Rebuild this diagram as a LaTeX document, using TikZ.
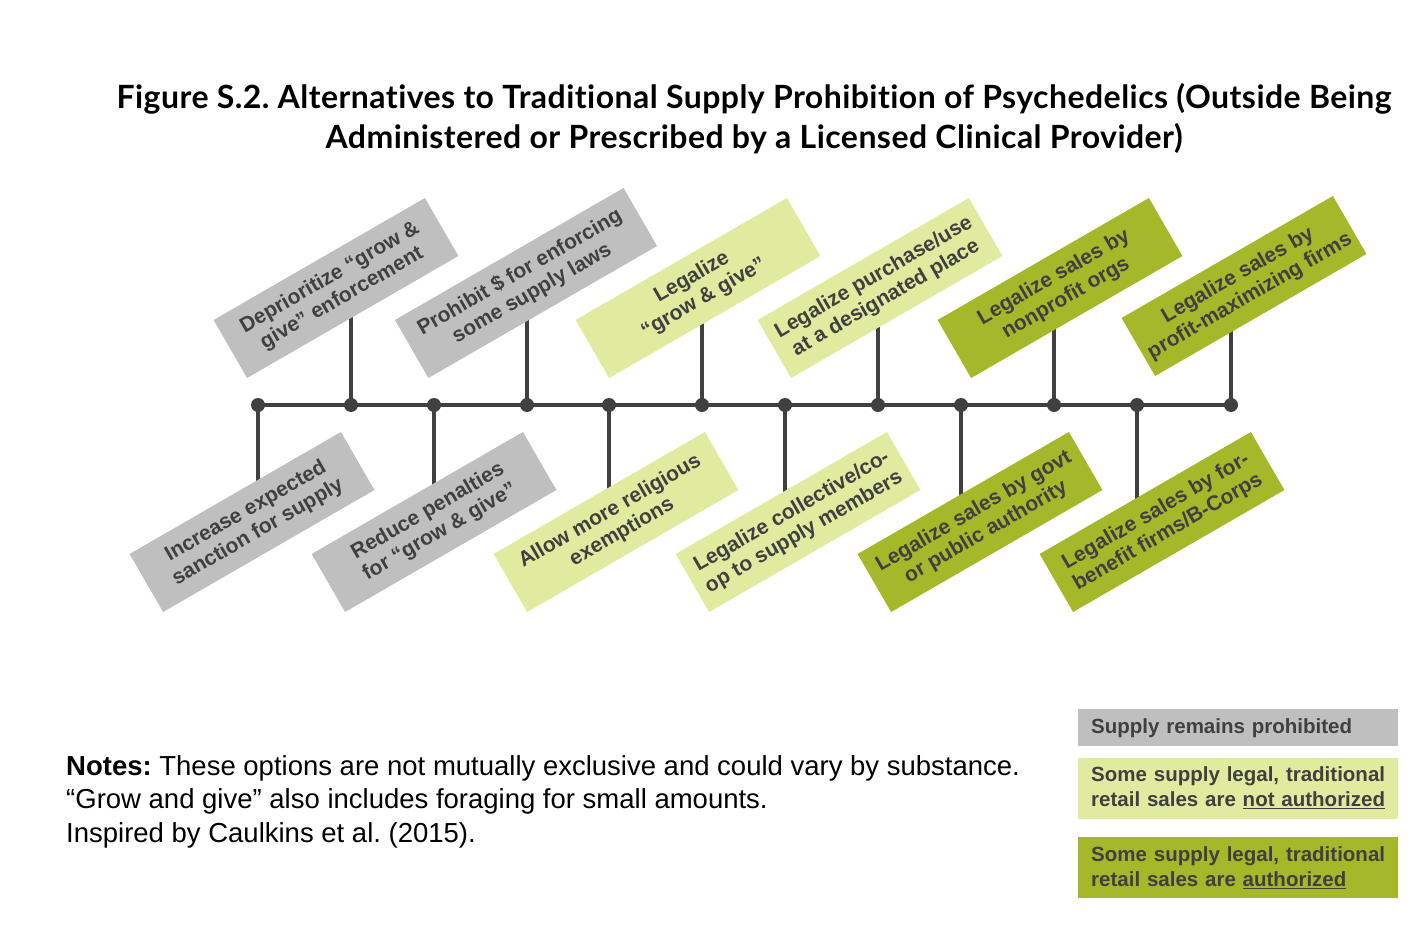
\documentclass[tikz,border=0pt]{standalone}
\usepackage{fontspec}
\setmainfont{Liberation Sans}
\newfontfamily\titlefont{Lato}[Ligatures=NoCommon, LetterSpace=1.4]
\usepackage{xcolor}
\definecolor{InkGray}{HTML}{404040}
\definecolor{ProhibGray}{HTML}{BFBFBF}
\definecolor{PaleLime}{HTML}{E1EB9F}
\definecolor{OliveLime}{HTML}{A5B82A}
\usetikzlibrary{positioning,backgrounds}
\frenchspacing

\begin{document}
\begin{tikzpicture}[
  x=1pt, y=-1pt,
  font=\fontsize{21}{24}\selectfont\bfseries,
  opt/.style={rotate=30, text=InkGray, align=center, inner sep=0pt,
              minimum width=244pt, minimum height=67pt},
  dot/.style={circle, fill=InkGray, inner sep=0pt, minimum size=14pt},
  stem/.style={line width=4pt, InkGray},
  key/.style={text=InkGray, align=left, anchor=north west, inner xsep=13pt,
              inner ysep=0pt, text width=294pt, font=\fontsize{20.5}{25}\selectfont\bfseries}
]
  \useasboundingbox (0,0) rectangle (1422,928);

  % title
  \node[font=\titlefont\fontsize{32}{40}\selectfont\bfseries, align=center,
        anchor=north] (title) at (754,80)
    {Figure S.2. Alternatives to Traditional Supply Prohibition of Psychedelics (Outside Being\\
     Administered or Prescribed by a Licensed Clinical Provider)};

  % timeline dots
  \node[dot] (d1) at (258,405) {};
  \node[dot] (d2) at (351,405) {};
  \node[dot] (d3) at (434,405) {};
  \node[dot] (d4) at (527,405) {};
  \node[dot] (d5) at (609,405) {};
  \node[dot] (d6) at (702,405) {};
  \node[dot] (d7) at (785,405) {};
  \node[dot] (d8) at (878,405) {};
  \node[dot] (d9) at (961,405) {};
  \node[dot] (d10) at (1054,405) {};
  \node[dot] (d11) at (1137,405) {};
  \node[dot] (d12) at (1231,405) {};

  % options above the line
  \node[opt, fill=ProhibGray] (t1) at (336,288) {Deprioritize “grow \&\\give” enforcement};
  \node[opt, fill=ProhibGray, minimum width=264pt] (t2) at (526,283)
    {Prohibit \$ for enforcing\\some supply laws};
  \node[opt, fill=PaleLime] (t3) at (698,288) {Legalize\\“grow \& give”};
  \node[opt, fill=PaleLime] (t4) at (880,288) {Legalize purchase/use\\at a designated place};
  \node[opt, fill=OliveLime] (t5) at (1060,288) {Legalize sales by\\nonprofit orgs};
  \node[opt, fill=OliveLime] (t6) at (1244,286) {Legalize sales by\\profit-maximizing firms};

  % options below the line
  \node[opt, fill=ProhibGray] (b1) at (252,522) {Increase expected\\sanction for supply};
  \node[opt, fill=ProhibGray] (b2) at (434,522) {Reduce penalties\\for “grow \& give”};
  \node[opt, fill=PaleLime] (b3) at (616,522) {Allow more religious\\exemptions};
  \node[opt, fill=PaleLime] (b4) at (798,522) {Legalize collective/co-\\op to supply members};
  \node[opt, fill=OliveLime] (b5) at (980,522) {Legalize sales by govt\\or public authority};
  \node[opt, fill=OliveLime] (b6) at (1162,522) {Legalize sales by for-\\benefit firms/B-Corps};

  \begin{scope}[on background layer]
    \draw[stem] (d1.center) -- (d12.center);
    \draw[stem] (d2.center) -- (d2 |- t1.center);
    \draw[stem] (d4.center) -- (d4 |- t2.center);
    \draw[stem] (d6.center) -- (d6 |- t3.center);
    \draw[stem] (d8.center) -- (d8 |- t4.center);
    \draw[stem] (d10.center) -- (d10 |- t5.center);
    \draw[stem] (d12.center) -- (d12 |- t6.center);
    \draw[stem] (d1.center) -- (d1 |- b1.center);
    \draw[stem] (d3.center) -- (d3 |- b2.center);
    \draw[stem] (d5.center) -- (d5 |- b3.center);
    \draw[stem] (d7.center) -- (d7 |- b4.center);
    \draw[stem] (d9.center) -- (d9 |- b5.center);
    \draw[stem] (d11.center) -- (d11 |- b6.center);
  \end{scope}

  % notes
  \node[font=\fontsize{27.5}{33.5}\selectfont\mdseries, align=left, anchor=north west,
        inner sep=0pt] (notes) at (66,755)
    {\textbf{Notes:} These options are not mutually exclusive and could vary by substance.\\
     “Grow and give” also includes foraging for small amounts.\\
     Inspired by Caulkins et al. (2015).};

  % legend
  \node[key, fill=ProhibGray, minimum height=37pt] (k1) at (1078,709)
    {Supply remains prohibited};
  \node[key, fill=PaleLime, minimum height=61pt, below=11pt of k1.south west, anchor=north west] (k2)
    {Some supply legal, traditional\\retail sales are \underline{not authorized}};
  \node[key, fill=OliveLime, minimum height=61pt, below=18pt of k2.south west, anchor=north west] (k3)
    {Some supply legal, traditional\\retail sales are \underline{authorized}};
\end{tikzpicture}
\end{document}
